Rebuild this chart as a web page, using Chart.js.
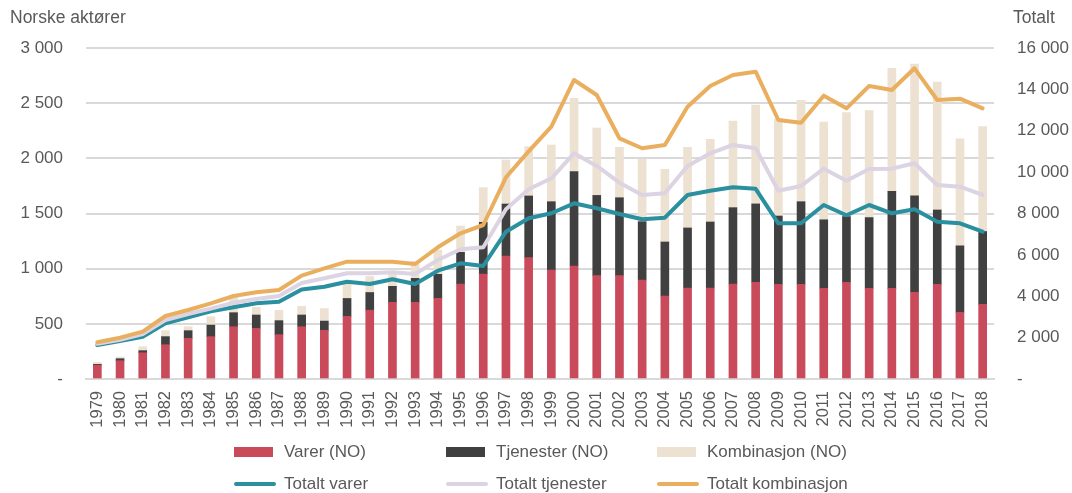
<!DOCTYPE html>
<html>
<head>
<meta charset="utf-8">
<script src="https://cdn.jsdelivr.net/npm/chart.js@4/dist/chart.umd.min.js"></script>
<style>
  html, body { margin:0; padding:0; background:#fff; }
  #wrap { position:relative; width:1072px; height:493px; }
  #c { position:absolute; left:0; top:0; }
  .lg { position:absolute; font-family:"Liberation Sans", Arial, sans-serif; font-size:17px; color:#595959; white-space:nowrap; line-height:20px; }
  .sw { position:absolute; }
</style>
</head>
<body>
<div id="wrap">
  <canvas id="c" width="1072" height="493"></canvas>
  <div id="legend"></div>
</div>
<script>
const years = ["1979","1980","1981","1982","1983","1984","1985","1986","1987","1988","1989","1990","1991","1992","1993","1994","1995","1996","1997","1998","1999","2000","2001","2002","2003","2004","2005","2006","2007","2008","2009","2010","2011","2012","2013","2014","2015","2016","2017","2018"];

const varerNO = [125,166,238,311,369,384,474,459,402,474,441,568,624,695,695,731,861,952,1115,1100,988,1024,937,937,897,752,825,825,861,877,858,858,822,876,822,822,786,858,604,677];
const tjenesterNO = [8,18,19,73,69,105,127,121,127,106,84,162,160,145,217,218,287,468,471,559,619,856,727,706,529,490,544,598,692,710,619,749,621,596,641,878,875,674,603,660];
const kombinasjonNO = [18,15,36,54,36,76,140,70,93,79,113,130,145,110,151,220,239,314,399,447,514,663,611,457,565,658,731,749,785,895,880,918,885,943,970,1116,1194,1158,970,951];

const totaltVarer = [1640,1840,2045,2690,2980,3270,3465,3658,3738,4330,4462,4704,4592,4819,4592,5235,5593,5462,7120,7768,8010,8493,8252,7976,7720,7799,8895,9103,9267,9194,7527,7527,8411,7913,8411,8010,8203,7604,7527,7120];
const totaltTjenester = [1700,1900,2175,2852,3142,3400,3688,3867,4012,4640,4867,5110,5110,5158,5076,5752,6269,6366,8203,9170,9702,10910,10297,9490,8895,8976,10297,10910,11312,11152,9103,9330,10168,9586,10152,10168,10426,9378,9297,8895];
const totaltKombinasjon = [1780,1997,2287,3045,3335,3658,4012,4190,4302,5000,5351,5670,5670,5670,5559,6366,7043,7444,9750,11000,12196,14454,13729,11635,11152,11312,13163,14164,14696,14855,12520,12390,13696,13085,14164,13970,15019,13487,13550,13085];

const leftTicks = [0,500,1000,1500,2000,2500,3000];
const rightTicks = [0,2000,4000,6000,8000,10000,12000,14000,16000];
const leftTitle = "Norske aktører";
const rightTitle = "Totalt";

const FONT = '"Liberation Sans", Arial, sans-serif';
const TXT = '#595959';

function fmt(v) {
  if (v === 0) return '-';
  const s = String(Math.round(v));
  return s.replace(/\B(?=(\d{3})+(?!\d))/g, ' ');
}

const titlesPlugin = {
  id: 'titles',
  afterDraw(chart) {
    const ctx = chart.ctx;
    ctx.save();
    ctx.fillStyle = TXT;
    ctx.font = '17.5px ' + FONT;
    ctx.textBaseline = 'alphabetic';
    ctx.textAlign = 'left';
    ctx.fillText(leftTitle, 10, 23);
    ctx.fillText(rightTitle, 1013, 23);
    ctx.restore();
  }
};

const barBase = { type:'bar', yAxisID:'y', stack:'s', order:3, barThickness:8, borderWidth:0 };
const lineBase = { type:'line', yAxisID:'y1', pointRadius:0, pointHoverRadius:0, borderWidth:4, tension:0, fill:false, borderJoinStyle:'round', borderCapStyle:'round' };

const chart = new Chart(document.getElementById('c'), {
  data: {
    labels: years,
    datasets: [
      Object.assign({}, barBase, { label:'Varer (NO)', data:varerNO, backgroundColor:'#C84A5B' }),
      Object.assign({}, barBase, { label:'Tjenester (NO)', data:tjenesterNO, backgroundColor:'#404040' }),
      Object.assign({}, barBase, { label:'Kombinasjon (NO)', data:kombinasjonNO, backgroundColor:'#EDE1D2' }),
      Object.assign({}, lineBase, { label:'Totalt varer', data:totaltVarer, borderColor:'#2A909F', backgroundColor:'#2A909F', order:2 }),
      Object.assign({}, lineBase, { label:'Totalt tjenester', data:totaltTjenester, borderColor:'#DCD3E3', backgroundColor:'#DCD3E3', order:1 }),
      Object.assign({}, lineBase, { label:'Totalt kombinasjon', data:totaltKombinasjon, borderColor:'#E9AF5F', backgroundColor:'#E9AF5F', order:0 })
    ]
  },
  options: {
    responsive:false,
    animation:false,
    devicePixelRatio:1,
    layout:{ padding:{ top:48, left:0, right:0, bottom:0 } },
    plugins:{ legend:{ display:false }, tooltip:{ enabled:false } },
    scales:{
      x:{
        stacked:true,
        offset:true,
        grid:{ display:false, drawTicks:false },
        border:{ display:true, color:'#D9D9D9', width:2 },
        ticks:{ autoSkip:false, minRotation:90, maxRotation:90, padding:12, color:TXT, font:{ family:FONT, size:16.5 } },
        afterFit(s){ s.height = 114; }
      },
      y:{
        position:'left',
        stacked:true,
        min:0, max:3000,
        afterBuildTicks(s){ s.ticks = leftTicks.map(v => ({ value:v })); },
        grid:{ color:'#D9D9D9', lineWidth:2, drawTicks:false },
        border:{ display:false },
        ticks:{ padding:23, color:TXT, font:{ family:FONT, size:17 }, callback:(v)=>fmt(v) },
        afterFit(s){ s.width = 86; }
      },
      y1:{
        position:'right',
        min:0, max:16000,
        afterBuildTicks(s){ s.ticks = rightTicks.map(v => ({ value:v })); },
        grid:{ display:false, drawTicks:false },
        border:{ display:false },
        ticks:{ padding:23, color:TXT, font:{ family:FONT, size:17 }, callback:(v)=>fmt(v) },
        afterFit(s){ s.width = 78; }
      }
    }
  },
  plugins:[titlesPlugin]
});

// HTML legend built from the chart's datasets
(function buildLegend(){
  const lg = document.getElementById('legend');
  const cols = [234, 446, 657];
  const rows = [452, 484];
  chart.data.datasets.forEach((ds, i) => {
    const col = cols[i % 3];
    const rowY = rows[Math.floor(i / 3)];
    const sw = document.createElement('div');
    sw.className = 'sw';
    if (ds.type === 'bar') {
      sw.style.cssText = `left:${col}px;top:${rowY-5}px;width:39px;height:10px;background:${ds.backgroundColor};`;
    } else {
      sw.style.cssText = `left:${col}px;top:${rowY-2}px;width:42px;height:4px;border-radius:2px;background:${ds.borderColor};`;
    }
    lg.appendChild(sw);
    const t = document.createElement('div');
    t.className = 'lg';
    t.textContent = ds.label;
    t.style.left = (col + 50) + 'px';
    t.style.top = (rowY - 10) + 'px';
    lg.appendChild(t);
  });
})();
</script>
</body>
</html>
